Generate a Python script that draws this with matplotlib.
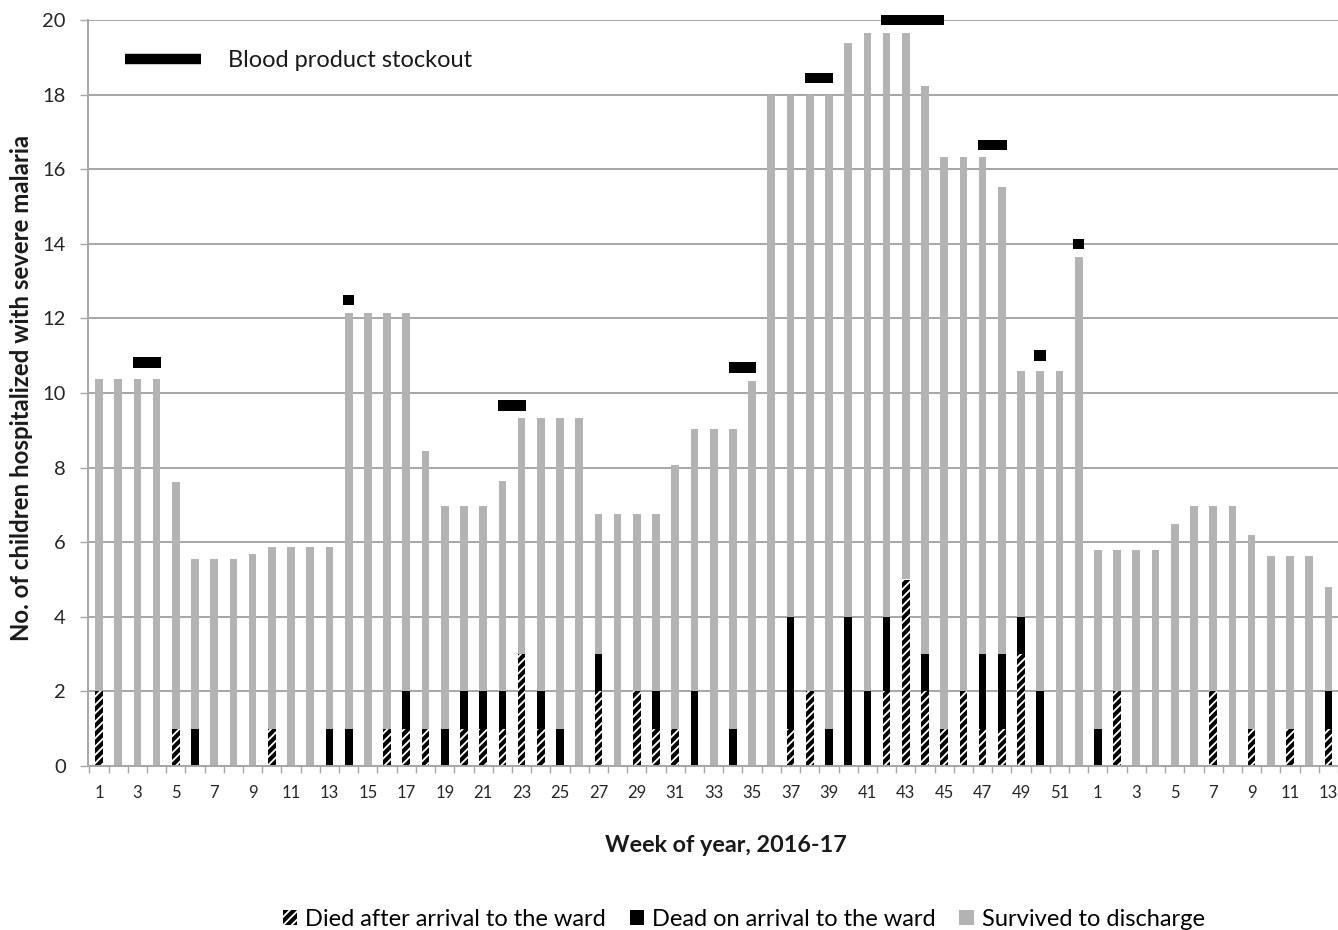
import numpy as np
import matplotlib
matplotlib.use("Agg")
import matplotlib.pyplot as plt
from matplotlib.patches import Patch
from matplotlib.lines import Line2D

plt.rcParams['font.family'] = ['Lato', 'DejaVu Sans']
plt.rcParams['hatch.linewidth'] = 1.3

# weeks 1-52 of 2016, then weeks 1-13 of 2017
weeks = list(range(1, 53)) + list(range(1, 14))

# died after arrival to the ward (hatched)
died_after = [2, 0, 0, 0, 1, 0, 0, 0, 0, 1, 0, 0, 0, 0, 0, 1, 1, 1, 0, 1,
              1, 1, 3, 1, 0, 0, 2, 0, 2, 1, 1, 0, 0, 0, 0, 0, 1, 2, 0, 0,
              0, 2, 5, 2, 1, 2, 1, 1, 3, 0, 0, 0,
              0, 2, 0, 0, 0, 0, 2, 0, 1, 0, 1, 0, 1]
# dead on arrival to the ward (black)
dead_arrival = [0, 0, 0, 0, 0, 1, 0, 0, 0, 0, 0, 0, 1, 1, 0, 0, 1, 0, 1, 1,
                1, 1, 0, 1, 1, 0, 1, 0, 0, 1, 0, 2, 0, 1, 0, 0, 3, 0, 1, 4,
                2, 2, 0, 1, 0, 0, 2, 2, 1, 2, 0, 0,
                1, 0, 0, 0, 0, 0, 0, 0, 0, 0, 0, 0, 1]
# survived to discharge (grey)
survived = [8.37, 10.37, 10.37, 10.37, 6.61, 4.55, 5.55, 5.55, 5.68, 4.86,
            5.86, 5.86, 4.86, 11.14, 12.14, 11.14, 10.14, 7.44, 5.97, 4.97,
            4.97, 5.65, 6.33, 7.33, 8.33, 9.33, 3.75, 6.75, 4.75, 4.75,
            7.07, 7.04, 9.04, 8.04, 10.31, 18.0, 14.0, 16.0, 17.0, 15.39,
            17.64, 15.64, 14.64, 15.23, 15.32, 14.32, 13.32, 12.52, 6.60, 8.60,
            10.60, 13.65,
            4.80, 3.80, 5.80, 5.80, 6.49, 6.97, 4.97, 6.97, 5.20, 5.62,
            4.62, 5.62, 2.81]

# blood product stockouts: centre (bar index), span in weeks, level
stock_center = [2.5, 13, 21.5, 33.5, 37.5, 42.35, 46.5, 49, 51]
stock_span = [1.45, 0.6, 1.45, 1.45, 1.45, 3.3, 1.5, 0.6, 0.6]
stock_level = [10.82, 12.5, 9.66, 10.68, 18.45, 20.0, 16.65, 11.0, 14.0]

x = np.arange(len(weeks))
died_after = np.array(died_after)
dead_arrival = np.array(dead_arrival)
survived = np.array(survived)

grey = '#b3b3b3'
gridc = '#a6a6a6'

fig = plt.figure(figsize=(13.38, 9.30), dpi=100)
ax = fig.add_axes([88 / 1338, 1 - 766 / 930, 1 - 88 / 1338, (766 - 20) / 930])

w = 0.4
ax.bar(x, died_after, width=w, color='black', edgecolor='white', linewidth=0,
       hatch='////', zorder=2)
ax.bar(x, dead_arrival, width=w, bottom=died_after, color='black', linewidth=0, zorder=2)
ax.bar(x, survived, width=w, bottom=died_after + dead_arrival, color=grey,
       linewidth=0, zorder=2)

# stockout markers
mh = 0.28
ax.bar(stock_center, mh, width=stock_span, bottom=np.array(stock_level) - mh / 2,
       color='black', linewidth=0, zorder=4, clip_on=False)

ax.set_xlim(-0.57, 63.95)
ax.set_ylim(0, 20)
ax.set_yticks(np.arange(0, 21, 2))
ax.yaxis.grid(True, color=gridc, linewidth=1.4)
ax.set_axisbelow(True)

lab_pos = [i for i in x if (weeks[i] % 2 == 1)]
ax.set_xticks(lab_pos)
ax.set_xticklabels([str(weeks[i]) for i in lab_pos], fontsize=12, color='#262626')
ax.set_xticks(np.arange(-0.5, 65, 1), minor=True)
ax.tick_params(axis='x', which='major', length=0, pad=14)
ax.tick_params(axis='x', which='minor', length=5, width=1, color=gridc)
ax.tick_params(axis='y', length=6, width=1, color=gridc, labelsize=14.5,
               labelcolor='#262626', pad=10)

for s in ['top', 'right']:
    ax.spines[s].set_visible(False)
for s in ['left', 'bottom']:
    ax.spines[s].set_color(gridc)
    ax.spines[s].set_linewidth(1.4)

ax.set_ylabel('No. of children hospitalized with severe malaria', fontsize=17.3,
              fontweight='bold', color='#1a1a1a')
ax.yaxis.set_label_coords(-0.0528, 0.507)
ax.yaxis.label.set_va('center')
ax.set_xlabel('Week of year, 2016-17', fontsize=16.8, fontweight='bold', color='#1a1a1a')
ax.xaxis.set_label_coords(0.5104, -0.106)
ax.xaxis.label.set_va('center')

stock_leg = ax.legend(handles=[Line2D([], [], color='black', linewidth=7.5, solid_capstyle='butt')],
                      labels=['Blood product stockout'], loc='center left',
                      bbox_to_anchor=(0.0296, 0.946), frameon=False, fontsize=17,
                      handlelength=3.2, handletextpad=1.15, borderpad=0, borderaxespad=0)
for t in stock_leg.get_texts():
    t.set_color('#1a1a1a')

handles = [Patch(facecolor='black', edgecolor='white', hatch='////', linewidth=0),
           Patch(facecolor='black', linewidth=0),
           Patch(facecolor=grey, linewidth=0)]
labels = ['Died after arrival to the ward', 'Dead on arrival to the ward', 'Survived to discharge']
fig.legend(handles, labels, loc='center', bbox_to_anchor=(0.556, 0.0115), ncol=3,
           frameon=False, fontsize=17, handlelength=0.6, handleheight=0.6,
           handletextpad=0.35, columnspacing=1.0, borderpad=0)

fig.savefig('out.png', dpi=100)
